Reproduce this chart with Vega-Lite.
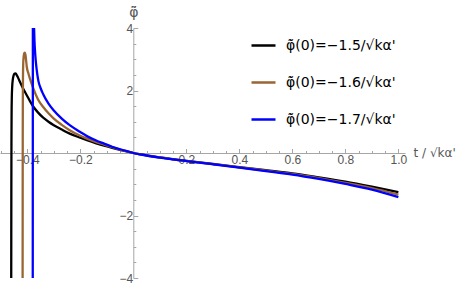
{
  "$schema": "https://vega.github.io/schema/vega-lite/v6.json",
  "width": 405,
  "height": 250,
  "autosize": {"type": "none"},
  "padding": {"left": 0, "top": 28, "right": 60, "bottom": 10},
  "background": "white",
  "config": {
    "view": {"stroke": null},
    "font": "Liberation Sans",
    "axis": {"grid": false, "domainColor": "#a6a6a6", "tickColor": "#a6a6a6", "labelColor": "#555555", "labelFont": "Liberation Sans", "titleFont": "Liberation Sans", "titleFontWeight": "normal", "titleColor": "#555555"}
  },
  "data": {
    "values": [
      {"x": -0.4608, "y": -5, "s": "φ̃̇(0)=−1.5/√kα'"},
      {"x": -0.4605, "y": -3, "s": "φ̃̇(0)=−1.5/√kα'"},
      {"x": -0.4602, "y": -1.2, "s": "φ̃̇(0)=−1.5/√kα'"},
      {"x": -0.4598, "y": 0.3, "s": "φ̃̇(0)=−1.5/√kα'"},
      {"x": -0.4593, "y": 1.2, "s": "φ̃̇(0)=−1.5/√kα'"},
      {"x": -0.4585, "y": 1.75, "s": "φ̃̇(0)=−1.5/√kα'"},
      {"x": -0.457, "y": 2.12, "s": "φ̃̇(0)=−1.5/√kα'"},
      {"x": -0.455, "y": 2.33, "s": "φ̃̇(0)=−1.5/√kα'"},
      {"x": -0.452, "y": 2.47, "s": "φ̃̇(0)=−1.5/√kα'"},
      {"x": -0.4485, "y": 2.54, "s": "φ̃̇(0)=−1.5/√kα'"},
      {"x": -0.445, "y": 2.55, "s": "φ̃̇(0)=−1.5/√kα'"},
      {"x": -0.441, "y": 2.51, "s": "φ̃̇(0)=−1.5/√kα'"},
      {"x": -0.436, "y": 2.43, "s": "φ̃̇(0)=−1.5/√kα'"},
      {"x": -0.428, "y": 2.28, "s": "φ̃̇(0)=−1.5/√kα'"},
      {"x": -0.415, "y": 2.05, "s": "φ̃̇(0)=−1.5/√kα'"},
      {"x": -0.402, "y": 1.85, "s": "φ̃̇(0)=−1.5/√kα'"},
      {"x": -0.39, "y": 1.66, "s": "φ̃̇(0)=−1.5/√kα'"},
      {"x": -0.377, "y": 1.48, "s": "φ̃̇(0)=−1.5/√kα'"},
      {"x": -0.36, "y": 1.3, "s": "φ̃̇(0)=−1.5/√kα'"},
      {"x": -0.34, "y": 1.13, "s": "φ̃̇(0)=−1.5/√kα'"},
      {"x": -0.32, "y": 1.0, "s": "φ̃̇(0)=−1.5/√kα'"},
      {"x": -0.3, "y": 0.89, "s": "φ̃̇(0)=−1.5/√kα'"},
      {"x": -0.27, "y": 0.75, "s": "φ̃̇(0)=−1.5/√kα'"},
      {"x": -0.24, "y": 0.62, "s": "φ̃̇(0)=−1.5/√kα'"},
      {"x": -0.2, "y": 0.49, "s": "φ̃̇(0)=−1.5/√kα'"},
      {"x": -0.175, "y": 0.41, "s": "φ̃̇(0)=−1.5/√kα'"},
      {"x": -0.14, "y": 0.31, "s": "φ̃̇(0)=−1.5/√kα'"},
      {"x": -0.11, "y": 0.235, "s": "φ̃̇(0)=−1.5/√kα'"},
      {"x": -0.08, "y": 0.165, "s": "φ̃̇(0)=−1.5/√kα'"},
      {"x": -0.05, "y": 0.1, "s": "φ̃̇(0)=−1.5/√kα'"},
      {"x": -0.025, "y": 0.05, "s": "φ̃̇(0)=−1.5/√kα'"},
      {"x": 0, "y": 0, "s": "φ̃̇(0)=−1.5/√kα'"},
      {"x": 0.05, "y": -0.075, "s": "φ̃̇(0)=−1.5/√kα'"},
      {"x": 0.1, "y": -0.14, "s": "φ̃̇(0)=−1.5/√kα'"},
      {"x": 0.15, "y": -0.2, "s": "φ̃̇(0)=−1.5/√kα'"},
      {"x": 0.2, "y": -0.25, "s": "φ̃̇(0)=−1.5/√kα'"},
      {"x": 0.3, "y": -0.35, "s": "φ̃̇(0)=−1.5/√kα'"},
      {"x": 0.4, "y": -0.45, "s": "φ̃̇(0)=−1.5/√kα'"},
      {"x": 0.5, "y": -0.55, "s": "φ̃̇(0)=−1.5/√kα'"},
      {"x": 0.6, "y": -0.65, "s": "φ̃̇(0)=−1.5/√kα'"},
      {"x": 0.7, "y": -0.78, "s": "φ̃̇(0)=−1.5/√kα'"},
      {"x": 0.8, "y": -0.92, "s": "φ̃̇(0)=−1.5/√kα'"},
      {"x": 0.9, "y": -1.08, "s": "φ̃̇(0)=−1.5/√kα'"},
      {"x": 1.0, "y": -1.25, "s": "φ̃̇(0)=−1.5/√kα'"},

      {"x": -0.4178, "y": -5, "s": "φ̃̇(0)=−1.6/√kα'"},
      {"x": -0.4175, "y": -2, "s": "φ̃̇(0)=−1.6/√kα'"},
      {"x": -0.4172, "y": 0.5, "s": "φ̃̇(0)=−1.6/√kα'"},
      {"x": -0.4168, "y": 1.8, "s": "φ̃̇(0)=−1.6/√kα'"},
      {"x": -0.4162, "y": 2.5, "s": "φ̃̇(0)=−1.6/√kα'"},
      {"x": -0.4152, "y": 2.9, "s": "φ̃̇(0)=−1.6/√kα'"},
      {"x": -0.4135, "y": 3.1, "s": "φ̃̇(0)=−1.6/√kα'"},
      {"x": -0.411, "y": 3.2, "s": "φ̃̇(0)=−1.6/√kα'"},
      {"x": -0.409, "y": 3.21, "s": "φ̃̇(0)=−1.6/√kα'"},
      {"x": -0.4065, "y": 3.12, "s": "φ̃̇(0)=−1.6/√kα'"},
      {"x": -0.404, "y": 2.92, "s": "φ̃̇(0)=−1.6/√kα'"},
      {"x": -0.402, "y": 2.76, "s": "φ̃̇(0)=−1.6/√kα'"},
      {"x": -0.396, "y": 2.55, "s": "φ̃̇(0)=−1.6/√kα'"},
      {"x": -0.39, "y": 2.38, "s": "φ̃̇(0)=−1.6/√kα'"},
      {"x": -0.377, "y": 2.06, "s": "φ̃̇(0)=−1.6/√kα'"},
      {"x": -0.36, "y": 1.72, "s": "φ̃̇(0)=−1.6/√kα'"},
      {"x": -0.34, "y": 1.47, "s": "φ̃̇(0)=−1.6/√kα'"},
      {"x": -0.32, "y": 1.27, "s": "φ̃̇(0)=−1.6/√kα'"},
      {"x": -0.3, "y": 1.1, "s": "φ̃̇(0)=−1.6/√kα'"},
      {"x": -0.27, "y": 0.9, "s": "φ̃̇(0)=−1.6/√kα'"},
      {"x": -0.24, "y": 0.73, "s": "φ̃̇(0)=−1.6/√kα'"},
      {"x": -0.2, "y": 0.55, "s": "φ̃̇(0)=−1.6/√kα'"},
      {"x": -0.175, "y": 0.46, "s": "φ̃̇(0)=−1.6/√kα'"},
      {"x": -0.14, "y": 0.35, "s": "φ̃̇(0)=−1.6/√kα'"},
      {"x": -0.11, "y": 0.27, "s": "φ̃̇(0)=−1.6/√kα'"},
      {"x": -0.08, "y": 0.19, "s": "φ̃̇(0)=−1.6/√kα'"},
      {"x": -0.05, "y": 0.11, "s": "φ̃̇(0)=−1.6/√kα'"},
      {"x": -0.025, "y": 0.055, "s": "φ̃̇(0)=−1.6/√kα'"},
      {"x": 0, "y": 0, "s": "φ̃̇(0)=−1.6/√kα'"},
      {"x": 0.05, "y": -0.077, "s": "φ̃̇(0)=−1.6/√kα'"},
      {"x": 0.1, "y": -0.143, "s": "φ̃̇(0)=−1.6/√kα'"},
      {"x": 0.15, "y": -0.203, "s": "φ̃̇(0)=−1.6/√kα'"},
      {"x": 0.2, "y": -0.253, "s": "φ̃̇(0)=−1.6/√kα'"},
      {"x": 0.3, "y": -0.355, "s": "φ̃̇(0)=−1.6/√kα'"},
      {"x": 0.4, "y": -0.457, "s": "φ̃̇(0)=−1.6/√kα'"},
      {"x": 0.5, "y": -0.565, "s": "φ̃̇(0)=−1.6/√kα'"},
      {"x": 0.6, "y": -0.67, "s": "φ̃̇(0)=−1.6/√kα'"},
      {"x": 0.7, "y": -0.805, "s": "φ̃̇(0)=−1.6/√kα'"},
      {"x": 0.8, "y": -0.955, "s": "φ̃̇(0)=−1.6/√kα'"},
      {"x": 0.9, "y": -1.12, "s": "φ̃̇(0)=−1.6/√kα'"},
      {"x": 1.0, "y": -1.33, "s": "φ̃̇(0)=−1.6/√kα'"},

      {"x": -0.3795, "y": -5, "s": "φ̃̇(0)=−1.7/√kα'"},
      {"x": -0.379, "y": 5, "s": "φ̃̇(0)=−1.7/√kα'"},
      {"x": -0.3775, "y": 5, "s": "φ̃̇(0)=−1.7/√kα'"},
      {"x": -0.3755, "y": 4.3, "s": "φ̃̇(0)=−1.7/√kα'"},
      {"x": -0.373, "y": 3.6, "s": "φ̃̇(0)=−1.7/√kα'"},
      {"x": -0.37, "y": 3.15, "s": "φ̃̇(0)=−1.7/√kα'"},
      {"x": -0.367, "y": 2.85, "s": "φ̃̇(0)=−1.7/√kα'"},
      {"x": -0.362, "y": 2.5, "s": "φ̃̇(0)=−1.7/√kα'"},
      {"x": -0.358, "y": 2.3, "s": "φ̃̇(0)=−1.7/√kα'"},
      {"x": -0.35, "y": 2.08, "s": "φ̃̇(0)=−1.7/√kα'"},
      {"x": -0.34, "y": 1.88, "s": "φ̃̇(0)=−1.7/√kα'"},
      {"x": -0.32, "y": 1.58, "s": "φ̃̇(0)=−1.7/√kα'"},
      {"x": -0.3, "y": 1.36, "s": "φ̃̇(0)=−1.7/√kα'"},
      {"x": -0.27, "y": 1.1, "s": "φ̃̇(0)=−1.7/√kα'"},
      {"x": -0.24, "y": 0.89, "s": "φ̃̇(0)=−1.7/√kα'"},
      {"x": -0.2, "y": 0.67, "s": "φ̃̇(0)=−1.7/√kα'"},
      {"x": -0.175, "y": 0.54, "s": "φ̃̇(0)=−1.7/√kα'"},
      {"x": -0.14, "y": 0.4, "s": "φ̃̇(0)=−1.7/√kα'"},
      {"x": -0.11, "y": 0.3, "s": "φ̃̇(0)=−1.7/√kα'"},
      {"x": -0.08, "y": 0.2, "s": "φ̃̇(0)=−1.7/√kα'"},
      {"x": -0.05, "y": 0.12, "s": "φ̃̇(0)=−1.7/√kα'"},
      {"x": -0.025, "y": 0.06, "s": "φ̃̇(0)=−1.7/√kα'"},
      {"x": 0, "y": 0, "s": "φ̃̇(0)=−1.7/√kα'"},
      {"x": 0.05, "y": -0.08, "s": "φ̃̇(0)=−1.7/√kα'"},
      {"x": 0.1, "y": -0.147, "s": "φ̃̇(0)=−1.7/√kα'"},
      {"x": 0.15, "y": -0.207, "s": "φ̃̇(0)=−1.7/√kα'"},
      {"x": 0.2, "y": -0.257, "s": "φ̃̇(0)=−1.7/√kα'"},
      {"x": 0.3, "y": -0.36, "s": "φ̃̇(0)=−1.7/√kα'"},
      {"x": 0.4, "y": -0.465, "s": "φ̃̇(0)=−1.7/√kα'"},
      {"x": 0.5, "y": -0.58, "s": "φ̃̇(0)=−1.7/√kα'"},
      {"x": 0.6, "y": -0.69, "s": "φ̃̇(0)=−1.7/√kα'"},
      {"x": 0.7, "y": -0.83, "s": "φ̃̇(0)=−1.7/√kα'"},
      {"x": 0.8, "y": -0.99, "s": "φ̃̇(0)=−1.7/√kα'"},
      {"x": 0.9, "y": -1.17, "s": "φ̃̇(0)=−1.7/√kα'"},
      {"x": 1.0, "y": -1.41, "s": "φ̃̇(0)=−1.7/√kα'"}
    ]
  },
  "mark": {"type": "line", "clip": true, "strokeWidth": 2.3, "interpolate": "monotone"},
  "encoding": {
    "x": {
      "field": "x", "type": "quantitative",
      "scale": {"domain": [-0.503, 1.025], "nice": false, "zero": false},
      "axis": {
        "offset": -125,
        "values": [-0.5, -0.45, -0.4, -0.35, -0.3, -0.25, -0.2, -0.15, -0.1, -0.05, 0.05, 0.1, 0.15, 0.2, 0.25, 0.3, 0.35, 0.4, 0.45, 0.5, 0.55, 0.6, 0.65, 0.7, 0.75, 0.8, 0.85, 0.9, 0.95, 1.0],
        "labelExpr": "abs(datum.value*5 - round(datum.value*5)) < 0.001 ? format(datum.value, '.1f') : ''",
        "tickSize": {"condition": {"test": "abs(datum.value*5 - round(datum.value*5)) < 0.001", "value": -4.5}, "value": -2.5},
        "labelPadding": 6,
        "labelFontSize": 12,
        "labelFlush": false,
        "labelOverlap": false,
        "title": "t / √kα'",
        "titleFont": "DejaVu Sans",
        "titleFontSize": 12,
        "titleX": 413,
        "titleY": -1,
        "titleAlign": "left",
        "titleBaseline": "middle"
      }
    },
    "y": {
      "field": "y", "type": "quantitative",
      "scale": {"domain": [-4, 4], "nice": false, "zero": false},
      "axis": {
        "offset": -133.3,
        "values": [-4, -3.5, -3, -2.5, -2, -1.5, -1, -0.5, 0.5, 1, 1.5, 2, 2.5, 3, 3.5, 4],
        "labelExpr": "datum.value % 2 == 0 ? format(datum.value, 'd') : ''",
        "tickSize": {"condition": {"test": "datum.value % 2 == 0", "value": -4.5}, "value": -2.5},
        "labelPadding": 5,
        "labelFontSize": 12,
        "labelFlush": false,
        "labelOverlap": false,
        "title": "φ̃̈",
        "titleFont": "DejaVu Sans",
        "titleFontSize": 14,
        "titleAngle": 0,
        "titleX": 0,
        "titleY": -12,
        "titleAlign": "center",
        "titleBaseline": "alphabetic"
      }
    },
    "color": {
      "field": "s", "type": "nominal",
      "scale": {"domain": ["φ̃̇(0)=−1.5/√kα'", "φ̃̇(0)=−1.6/√kα'", "φ̃̇(0)=−1.7/√kα'"], "range": ["#000000", "#996633", "#0000ff"]},
      "legend": {
        "title": null,
        "orient": "none",
        "legendX": 250,
        "legendY": 4,
        "padding": 0,
        "symbolType": "stroke",
        "symbolSize": 576,
        "symbolStrokeWidth": 2.5,
        "labelOffset": 9,
        "labelFontSize": 14,
        "labelColor": "#000000",
        "labelFont": "DejaVu Sans",
        "rowPadding": 16,
        "labelLimit": 300
      }
    }
  }
}
